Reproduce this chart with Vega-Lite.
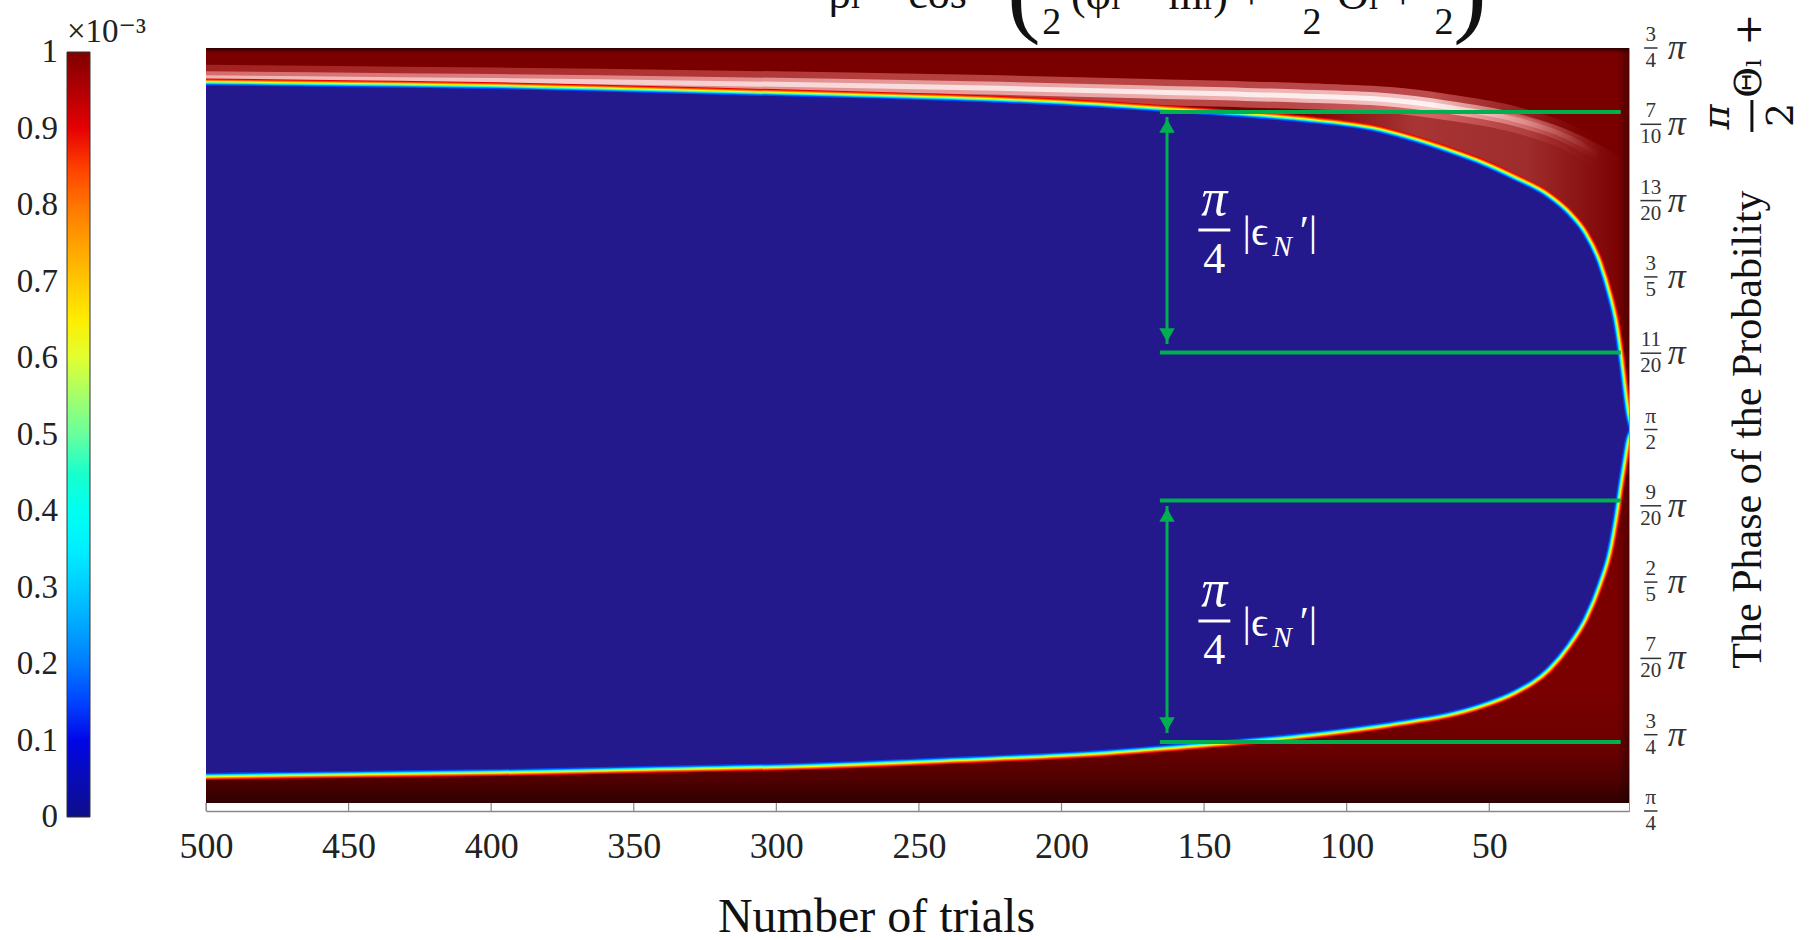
{
  "$schema": "https://vega.github.io/schema/vega-lite/v6.json",
  "width": 1423,
  "height": 763,
  "autosize": {"type": "none"},
  "padding": {"left": 206, "top": 48, "right": 185, "bottom": 129},
  "background": "white",
  "config": {"view": {"stroke": "#999", "strokeWidth": 1}, "font": "Liberation Serif"},
  "datasets": {
    "bnd": [
      {"n": 500, "up": 0.7255, "lo": 0.2749},
      {"n": 449.5, "up": 0.7243, "lo": 0.2762},
      {"n": 396.9, "up": 0.723, "lo": 0.2775},
      {"n": 344.3, "up": 0.7205, "lo": 0.2795},
      {"n": 291.7, "up": 0.718, "lo": 0.2815},
      {"n": 239.1, "up": 0.7153, "lo": 0.2854},
      {"n": 186.5, "up": 0.7108, "lo": 0.29},
      {"n": 151.5, "up": 0.7064, "lo": 0.2952},
      {"n": 116.4, "up": 0.7013, "lo": 0.3011},
      {"n": 88.37, "up": 0.6943, "lo": 0.3077},
      {"n": 76.79, "up": 0.6884, "lo": 0.311},
      {"n": 64.87, "up": 0.6812, "lo": 0.3149},
      {"n": 53.3, "up": 0.6733, "lo": 0.3208},
      {"n": 41.73, "up": 0.6635, "lo": 0.3293},
      {"n": 29.81, "up": 0.6517, "lo": 0.3444},
      {"n": 22.8, "up": 0.6406, "lo": 0.3601},
      {"n": 17.18, "up": 0.6275, "lo": 0.3771},
      {"n": 12.27, "up": 0.6085, "lo": 0.3994},
      {"n": 8.77, "up": 0.587, "lo": 0.421},
      {"n": 6.66, "up": 0.5698, "lo": 0.4427},
      {"n": 4.91, "up": 0.5475, "lo": 0.465},
      {"n": 3.51, "up": 0.5259, "lo": 0.4813},
      {"n": 2.45, "up": 0.5108, "lo": 0.4931},
      {"n": 1.05, "up": 0.5002, "lo": 0.4998}
    ],
    "glow": [
      {"n": 500, "g": 0.7305},
      {"n": 432, "g": 0.7292},
      {"n": 361.8, "g": 0.7279},
      {"n": 274.2, "g": 0.7255},
      {"n": 221.6, "g": 0.7236},
      {"n": 169, "g": 0.7212},
      {"n": 116.4, "g": 0.7185},
      {"n": 84.8, "g": 0.7159},
      {"n": 64.9, "g": 0.7113},
      {"n": 41.7, "g": 0.7035},
      {"n": 24.2, "g": 0.693},
      {"n": 11.2, "g": 0.6799}
    ],
    "haze": [
      {"n": 116.4, "t": 0.7185, "b": 0.7015},
      {"n": 84.8, "t": 0.7159, "b": 0.6936},
      {"n": 64.9, "t": 0.712, "b": 0.6812},
      {"n": 41.7, "t": 0.7061, "b": 0.6635},
      {"n": 24.2, "t": 0.6976, "b": 0.6432},
      {"n": 11.2, "t": 0.6864, "b": 0.6045},
      {"n": 2.5, "t": 0.6766, "b": 0.5108}
    ],
    "ticks": [
      {"p": 0.75, "num": "3", "den": "4", "tail": "π"},
      {"p": 0.7, "num": "7", "den": "10", "tail": "π"},
      {"p": 0.65, "num": "13", "den": "20", "tail": "π"},
      {"p": 0.6, "num": "3", "den": "5", "tail": "π"},
      {"p": 0.55, "num": "11", "den": "20", "tail": "π"},
      {"p": 0.5, "num": "π", "den": "2", "tail": ""},
      {"p": 0.45, "num": "9", "den": "20", "tail": "π"},
      {"p": 0.4, "num": "2", "den": "5", "tail": "π"},
      {"p": 0.35, "num": "7", "den": "20", "tail": "π"},
      {"p": 0.3, "num": "3", "den": "4", "tail": "π"},
      {"p": 0.25, "num": "π", "den": "4", "tail": ""}
    ]
  },
  "resolve": {"axis": {"x": "independent", "y": "independent"}},
  "layer": [
    {
      "data": {"values": [{}]},
      "mark": {"type": "rect", "color": "#7a0000"},
      "encoding": {
        "x": {"datum": 500, "type": "quantitative", "scale": {"domain": [500, 1], "nice": false, "zero": false},
          "axis": {"orient": "bottom", "zindex": 1, "values": [500, 450, 400, 350, 300, 250, 200, 150, 100, 50], "format": "d", "title": "Number of trials", "titleX": 670, "grid": false, "ticks": false, "labelFlush": false, "labelOverlap": false, "domainColor": "#888", "domainWidth": 1.5, "labelFont": "Liberation Serif", "labelFontSize": 36, "labelColor": "#222", "labelPadding": 18, "titleFont": "Liberation Serif", "titleFontSize": 48, "titleFontWeight": "normal", "titleColor": "#111", "titlePadding": 29}},
        "x2": {"datum": 1},
        "y": {"datum": 0.2553, "type": "quantitative", "scale": {"domain": [0.25, 0.75], "nice": false, "zero": false}, "axis": null},
        "y2": {"datum": 0.75}
      }
    },
    {
      "data": {"values": [{"t": 500}, {"t": 450}, {"t": 400}, {"t": 350}, {"t": 300}, {"t": 250}, {"t": 200}, {"t": 150}, {"t": 100}, {"t": 50}]},
      "mark": {"type": "rule", "color": "#888", "strokeWidth": 1.2},
      "encoding": {
        "x": {"field": "t", "type": "quantitative", "scale": {"domain": [500, 1], "nice": false, "zero": false}, "axis": null},
        "y": {"datum": 0.25, "type": "quantitative", "scale": {"domain": [0.25, 0.75], "nice": false, "zero": false}, "axis": null},
        "y2": {"datum": 0.2553}
      }
    },
    {
      "data": {"values": [{}]},
      "mark": {"type": "rect", "fill": {"gradient": "linear", "x1": 0, "y1": 0, "x2": 0, "y2": 1, "stops": [{"offset": 0, "color": "rgba(20,0,0,0)"}, {"offset": 0.5, "color": "rgba(20,0,0,0.15)"}, {"offset": 0.78, "color": "rgba(20,0,0,0.4)"}, {"offset": 1, "color": "rgba(20,0,0,0.72)"}]}},
      "encoding": {
        "x": {"datum": 500, "type": "quantitative", "scale": {"domain": [500, 1], "nice": false, "zero": false}, "axis": null},
        "x2": {"datum": 1},
        "y": {"datum": 0.2553, "type": "quantitative", "scale": {"domain": [0.25, 0.75], "nice": false, "zero": false}, "axis": null},
        "y2": {"datum": 0.3293}
      }
    },
    {
      "data": {"values": [{}]},
      "mark": {"type": "rect", "fill": {"gradient": "linear", "x1": 0, "y1": 0, "x2": 0, "y2": 1, "stops": [{"offset": 0, "color": "rgba(20,0,0,0.75)"}, {"offset": 1, "color": "rgba(20,0,0,0)"}]}},
      "encoding": {
        "x": {"datum": 500, "type": "quantitative", "scale": {"domain": [500, 1], "nice": false, "zero": false}, "axis": null},
        "x2": {"datum": 1},
        "y": {"datum": 0.7467, "type": "quantitative", "scale": {"domain": [0.25, 0.75], "nice": false, "zero": false}, "axis": null},
        "y2": {"datum": 0.75}
      }
    },
    {
      "data": {"values": [{}]},
      "mark": {"type": "rect", "fill": {"gradient": "linear", "x1": 0, "y1": 0, "x2": 1, "y2": 0, "stops": [{"offset": 0, "color": "rgba(20,0,0,0)"}, {"offset": 1, "color": "rgba(20,0,0,0.4)"}]}},
      "encoding": {
        "x": {"datum": 5, "type": "quantitative", "scale": {"domain": [500, 1], "nice": false, "zero": false}, "axis": null},
        "x2": {"datum": 1},
        "y": {"datum": 0.2553, "type": "quantitative", "scale": {"domain": [0.25, 0.75], "nice": false, "zero": false}, "axis": null},
        "y2": {"datum": 0.75}
      }
    },
    {
      "data": {"name": "haze"},
      "mark": {"type": "area", "interpolate": "monotone", "clip": true, "fill": {"gradient": "linear", "x1": 0, "y1": 0, "x2": 1, "y2": 0, "stops": [{"offset": 0, "color": "rgba(255,140,140,0)"}, {"offset": 0.35, "color": "rgba(255,150,150,0.35)"}, {"offset": 0.7, "color": "rgba(255,160,160,0.28)"}, {"offset": 1, "color": "rgba(255,150,150,0)"}]}},
      "encoding": {
        "x": {"field": "n", "type": "quantitative", "scale": {"domain": [500, 1], "nice": false, "zero": false}, "axis": null},
        "y": {"field": "t", "type": "quantitative", "scale": {"domain": [0.25, 0.75], "nice": false, "zero": false}, "axis": null},
        "y2": {"field": "b"}
      }
    },
    {
      "data": {"name": "glow"},
      "mark": {"type": "line", "strokeWidth": 26, "interpolate": "monotone", "clip": true, "strokeCap": "butt", "stroke": {"gradient": "linear", "x1": 0, "y1": 0, "x2": 1, "y2": 0, "stops": [{"offset": 0, "color": "rgba(255,110,110,0.3)"}, {"offset": 0.5, "color": "rgba(255,140,140,0.45)"}, {"offset": 0.88, "color": "rgba(255,150,150,0.5)"}, {"offset": 0.95, "color": "rgba(230,110,110,0.25)"}, {"offset": 1, "color": "rgba(160,30,30,0)"}]}},
      "encoding": {
        "x": {"field": "n", "type": "quantitative", "scale": {"domain": [500, 1], "nice": false, "zero": false}, "axis": null},
        "y": {"field": "g", "type": "quantitative", "scale": {"domain": [0.25, 0.75], "nice": false, "zero": false}, "axis": null}
      }
    },
    {
      "data": {"name": "glow"},
      "mark": {"type": "line", "strokeWidth": 13, "interpolate": "monotone", "clip": true, "strokeCap": "butt", "stroke": {"gradient": "linear", "x1": 0, "y1": 0, "x2": 1, "y2": 0, "stops": [{"offset": 0, "color": "rgba(255,170,170,0.55)"}, {"offset": 0.5, "color": "rgba(255,200,200,0.65)"}, {"offset": 0.88, "color": "rgba(255,220,220,0.8)"}, {"offset": 0.95, "color": "rgba(255,180,180,0.35)"}, {"offset": 1, "color": "rgba(200,80,80,0)"}]}},
      "encoding": {
        "x": {"field": "n", "type": "quantitative", "scale": {"domain": [500, 1], "nice": false, "zero": false}, "axis": null},
        "y": {"field": "g", "type": "quantitative", "scale": {"domain": [0.25, 0.75], "nice": false, "zero": false}, "axis": null}
      }
    },
    {
      "data": {"name": "glow"},
      "mark": {"type": "line", "strokeWidth": 5, "interpolate": "monotone", "clip": true, "strokeCap": "butt", "stroke": {"gradient": "linear", "x1": 0, "y1": 0, "x2": 1, "y2": 0, "stops": [{"offset": 0, "color": "rgba(255,225,225,0.6)"}, {"offset": 0.6, "color": "rgba(255,245,245,0.8)"}, {"offset": 0.88, "color": "rgba(255,250,250,0.85)"}, {"offset": 0.95, "color": "rgba(255,200,200,0.3)"}, {"offset": 1, "color": "rgba(255,200,200,0)"}]}},
      "encoding": {
        "x": {"field": "n", "type": "quantitative", "scale": {"domain": [500, 1], "nice": false, "zero": false}, "axis": null},
        "y": {"field": "g", "type": "quantitative", "scale": {"domain": [0.25, 0.75], "nice": false, "zero": false}, "axis": null}
      }
    },
    {
      "data": {"name": "bnd"},
      "transform": [{"fold": ["up", "lo"], "as": ["side", "yv"]}],
      "mark": {"type": "line", "stroke": "#e60000", "strokeWidth": 14, "strokeCap": "round", "strokeJoin": "round", "interpolate": "monotone", "clip": true},
      "encoding": {
        "x": {"field": "n", "type": "quantitative", "scale": {"domain": [500, 1], "nice": false, "zero": false}, "axis": null},
        "y": {"field": "yv", "type": "quantitative", "scale": {"domain": [0.25, 0.75], "nice": false, "zero": false}, "axis": null},
        "detail": {"field": "side"}
      }
    },
    {
      "data": {"name": "bnd"},
      "transform": [{"fold": ["up", "lo"], "as": ["side", "yv"]}],
      "mark": {"type": "line", "stroke": "#ff4d00", "strokeWidth": 12, "strokeCap": "round", "strokeJoin": "round", "interpolate": "monotone", "clip": true},
      "encoding": {
        "x": {"field": "n", "type": "quantitative", "scale": {"domain": [500, 1], "nice": false, "zero": false}, "axis": null},
        "y": {"field": "yv", "type": "quantitative", "scale": {"domain": [0.25, 0.75], "nice": false, "zero": false}, "axis": null},
        "detail": {"field": "side"}
      }
    },
    {
      "data": {"name": "bnd"},
      "transform": [{"fold": ["up", "lo"], "as": ["side", "yv"]}],
      "mark": {"type": "line", "stroke": "#ffb300", "strokeWidth": 10, "strokeCap": "round", "strokeJoin": "round", "interpolate": "monotone", "clip": true},
      "encoding": {
        "x": {"field": "n", "type": "quantitative", "scale": {"domain": [500, 1], "nice": false, "zero": false}, "axis": null},
        "y": {"field": "yv", "type": "quantitative", "scale": {"domain": [0.25, 0.75], "nice": false, "zero": false}, "axis": null},
        "detail": {"field": "side"}
      }
    },
    {
      "data": {"name": "bnd"},
      "transform": [{"fold": ["up", "lo"], "as": ["side", "yv"]}],
      "mark": {"type": "line", "stroke": "#faff05", "strokeWidth": 8.5, "strokeCap": "round", "strokeJoin": "round", "interpolate": "monotone", "clip": true},
      "encoding": {
        "x": {"field": "n", "type": "quantitative", "scale": {"domain": [500, 1], "nice": false, "zero": false}, "axis": null},
        "y": {"field": "yv", "type": "quantitative", "scale": {"domain": [0.25, 0.75], "nice": false, "zero": false}, "axis": null},
        "detail": {"field": "side"}
      }
    },
    {
      "data": {"name": "bnd"},
      "transform": [{"fold": ["up", "lo"], "as": ["side", "yv"]}],
      "mark": {"type": "line", "stroke": "#80ff80", "strokeWidth": 7, "strokeCap": "round", "strokeJoin": "round", "interpolate": "monotone", "clip": true},
      "encoding": {
        "x": {"field": "n", "type": "quantitative", "scale": {"domain": [500, 1], "nice": false, "zero": false}, "axis": null},
        "y": {"field": "yv", "type": "quantitative", "scale": {"domain": [0.25, 0.75], "nice": false, "zero": false}, "axis": null},
        "detail": {"field": "side"}
      }
    },
    {
      "data": {"name": "bnd"},
      "transform": [{"fold": ["up", "lo"], "as": ["side", "yv"]}],
      "mark": {"type": "line", "stroke": "#1affe6", "strokeWidth": 5.5, "strokeCap": "round", "strokeJoin": "round", "interpolate": "monotone", "clip": true},
      "encoding": {
        "x": {"field": "n", "type": "quantitative", "scale": {"domain": [500, 1], "nice": false, "zero": false}, "axis": null},
        "y": {"field": "yv", "type": "quantitative", "scale": {"domain": [0.25, 0.75], "nice": false, "zero": false}, "axis": null},
        "detail": {"field": "side"}
      }
    },
    {
      "data": {"name": "bnd"},
      "transform": [{"fold": ["up", "lo"], "as": ["side", "yv"]}],
      "mark": {"type": "line", "stroke": "#00b3ff", "strokeWidth": 4, "strokeCap": "round", "strokeJoin": "round", "interpolate": "monotone", "clip": true},
      "encoding": {
        "x": {"field": "n", "type": "quantitative", "scale": {"domain": [500, 1], "nice": false, "zero": false}, "axis": null},
        "y": {"field": "yv", "type": "quantitative", "scale": {"domain": [0.25, 0.75], "nice": false, "zero": false}, "axis": null},
        "detail": {"field": "side"}
      }
    },
    {
      "data": {"name": "bnd"},
      "transform": [{"fold": ["up", "lo"], "as": ["side", "yv"]}],
      "mark": {"type": "line", "stroke": "#004dff", "strokeWidth": 2.5, "strokeCap": "round", "strokeJoin": "round", "interpolate": "monotone", "clip": true},
      "encoding": {
        "x": {"field": "n", "type": "quantitative", "scale": {"domain": [500, 1], "nice": false, "zero": false}, "axis": null},
        "y": {"field": "yv", "type": "quantitative", "scale": {"domain": [0.25, 0.75], "nice": false, "zero": false}, "axis": null},
        "detail": {"field": "side"}
      }
    },
    {
      "data": {"name": "bnd"},
      "mark": {"type": "area", "color": "#23198d", "interpolate": "monotone", "clip": true},
      "encoding": {
        "x": {"field": "n", "type": "quantitative", "scale": {"domain": [500, 1], "nice": false, "zero": false}, "axis": null},
        "y": {"field": "up", "type": "quantitative", "scale": {"domain": [0.25, 0.75], "nice": false, "zero": false}, "axis": null},
        "y2": {"field": "lo"}
      }
    },
    {
      "data": {"values": [{"v": 0}, {"v": 1}]},
      "mark": {"type": "point", "opacity": 0},
      "encoding": {
        "x": {"datum": 250, "type": "quantitative", "scale": {"domain": [500, 1], "nice": false, "zero": false}, "axis": null},
        "y": {"datum": 0.5, "type": "quantitative", "scale": {"domain": [0.25, 0.75], "nice": false, "zero": false}, "axis": null},
        "color": {"field": "v", "type": "quantitative",
          "scale": {"type": "linear", "domain": [0, 0.125, 0.375, 0.625, 0.875, 1], "range": ["#0d0d8a", "#0000ff", "#00ffff", "#ffff00", "#ff0000", "#800000"]},
          "legend": {"title": "×10⁻³", "orient": "none", "legendX": -139, "legendY": -32, "direction": "vertical", "gradientLength": 765, "gradientThickness": 23, "values": [0, 0.1, 0.2, 0.3, 0.4, 0.5, 0.6, 0.7, 0.8, 0.9, 1], "labelExpr": "format(datum.value, '.1~f')", "labelFont": "Liberation Serif", "labelFontSize": 33, "labelColor": "#222", "labelOverlap": false, "titleFont": "Liberation Serif, DejaVu Serif", "titleFontSize": 33, "titleFontWeight": "normal", "titleColor": "#222", "titlePadding": 3, "gradientStrokeColor": "#333", "gradientStrokeWidth": 1,
            "encode": {"labels": {"update": {"x": {"value": -9}, "align": {"value": "right"}, "baseline": {"value": "middle"}}}}}
        }
      }
    },
    {
      "data": {"values": [{"g": 0.7081}, {"g": 0.5505}, {"g": 0.4534}, {"g": 0.2952}]},
      "mark": {"type": "rule", "color": "#00b050", "strokeWidth": 4},
      "encoding": {
        "x": {"datum": 165.5, "type": "quantitative", "scale": {"domain": [500, 1], "nice": false, "zero": false}, "axis": null},
        "x2": {"datum": 3.9},
        "y": {"field": "g", "type": "quantitative", "scale": {"domain": [0.25, 0.75], "nice": false, "zero": false}, "axis": null}
      }
    },
    {
      "data": {"values": [{"a": 0.7048, "b": 0.556}, {"a": 0.4499, "b": 0.3011}]},
      "mark": {"type": "rule", "color": "#00b050", "strokeWidth": 3},
      "encoding": {
        "x": {"datum": 163, "type": "quantitative", "scale": {"domain": [500, 1], "nice": false, "zero": false}, "axis": null},
        "y": {"field": "a", "type": "quantitative", "scale": {"domain": [0.25, 0.75], "nice": false, "zero": false}, "axis": null},
        "y2": {"field": "b"}
      }
    },
    {
      "data": {"values": [{"h": 0.6989, "s": "triangle-up"}, {"h": 0.5619, "s": "triangle-down"}, {"h": 0.444, "s": "triangle-up"}, {"h": 0.307, "s": "triangle-down"}]},
      "mark": {"type": "point", "filled": true, "color": "#00b050", "opacity": 1, "size": 240},
      "encoding": {
        "x": {"datum": 163, "type": "quantitative", "scale": {"domain": [500, 1], "nice": false, "zero": false}, "axis": null},
        "y": {"field": "h", "type": "quantitative", "scale": {"domain": [0.25, 0.75], "nice": false, "zero": false}, "axis": null},
        "shape": {"field": "s", "type": "nominal", "scale": null}
      }
    },
    {
      "data": {"values": [{"yy": 0.6511}, {"yy": 0.3949}]},
      "mark": {"type": "text", "text": "π", "font": "Liberation Serif", "fontStyle": "italic", "fontSize": 52, "color": "white", "align": "center", "baseline": "middle"},
      "encoding": {
        "x": {"datum": 146.4, "type": "quantitative", "scale": {"domain": [500, 1], "nice": false, "zero": false}, "axis": null},
        "y": {"field": "yy", "type": "quantitative", "scale": {"domain": [0.25, 0.75], "nice": false, "zero": false}, "axis": null}
      }
    },
    {
      "data": {"values": [{"yy": 0.6307}, {"yy": 0.3745}]},
      "mark": {"type": "rule", "color": "white", "strokeWidth": 3},
      "encoding": {
        "x": {"datum": 152, "type": "quantitative", "scale": {"domain": [500, 1], "nice": false, "zero": false}, "axis": null},
        "x2": {"datum": 140.8},
        "y": {"field": "yy", "type": "quantitative", "scale": {"domain": [0.25, 0.75], "nice": false, "zero": false}, "axis": null}
      }
    },
    {
      "data": {"values": [{"yy": 0.6111}, {"yy": 0.3549}]},
      "mark": {"type": "text", "text": "4", "font": "Liberation Serif", "fontSize": 44, "color": "white", "align": "center", "baseline": "middle"},
      "encoding": {
        "x": {"datum": 146.4, "type": "quantitative", "scale": {"domain": [500, 1], "nice": false, "zero": false}, "axis": null},
        "y": {"field": "yy", "type": "quantitative", "scale": {"domain": [0.25, 0.75], "nice": false, "zero": false}, "axis": null}
      }
    },
    {
      "data": {"values": [{"yy": 0.6209}, {"yy": 0.3647}]},
      "mark": {"type": "text", "text": "|ϵ", "font": "Liberation Serif, DejaVu Serif", "fontSize": 42, "color": "white", "align": "left", "baseline": "alphabetic"},
      "encoding": {
        "x": {"datum": 136.5, "type": "quantitative", "scale": {"domain": [500, 1], "nice": false, "zero": false}, "axis": null},
        "y": {"field": "yy", "type": "quantitative", "scale": {"domain": [0.25, 0.75], "nice": false, "zero": false}, "axis": null}
      }
    },
    {
      "data": {"values": [{"yy": 0.6137}, {"yy": 0.3575}]},
      "mark": {"type": "text", "text": "N", "font": "Liberation Serif", "fontStyle": "italic", "fontSize": 29, "color": "white", "align": "left", "baseline": "alphabetic"},
      "encoding": {
        "x": {"datum": 126, "type": "quantitative", "scale": {"domain": [500, 1], "nice": false, "zero": false}, "axis": null},
        "y": {"field": "yy", "type": "quantitative", "scale": {"domain": [0.25, 0.75], "nice": false, "zero": false}, "axis": null}
      }
    },
    {
      "data": {"values": [{"yy": 0.6209}, {"yy": 0.3647}]},
      "mark": {"type": "text", "text": "′|", "font": "Liberation Serif, DejaVu Serif", "fontSize": 42, "color": "white", "align": "left", "baseline": "alphabetic"},
      "encoding": {
        "x": {"datum": 116.5, "type": "quantitative", "scale": {"domain": [500, 1], "nice": false, "zero": false}, "axis": null},
        "y": {"field": "yy", "type": "quantitative", "scale": {"domain": [0.25, 0.75], "nice": false, "zero": false}, "axis": null}
      }
    },
    {
      "data": {"name": "ticks"},
      "mark": {"type": "text", "font": "Liberation Serif", "fontSize": 21, "color": "#333", "align": "center", "baseline": "middle", "dy": -13},
      "encoding": {
        "x": {"datum": -6.67, "type": "quantitative", "scale": {"domain": [500, 1], "nice": false, "zero": false}, "axis": null},
        "y": {"field": "p", "type": "quantitative", "scale": {"domain": [0.25, 0.75], "nice": false, "zero": false}, "axis": null},
        "text": {"field": "num"}
      }
    },
    {
      "data": {"name": "ticks"},
      "mark": {"type": "text", "font": "Liberation Serif", "fontSize": 21, "color": "#333", "align": "center", "baseline": "middle", "dy": 13},
      "encoding": {
        "x": {"datum": -6.67, "type": "quantitative", "scale": {"domain": [500, 1], "nice": false, "zero": false}, "axis": null},
        "y": {"field": "p", "type": "quantitative", "scale": {"domain": [0.25, 0.75], "nice": false, "zero": false}, "axis": null},
        "text": {"field": "den"}
      }
    },
    {
      "data": {"name": "ticks"},
      "transform": [{"filter": "length(datum.den) < 2 && length(datum.num) < 2"}],
      "mark": {"type": "rule", "color": "#333", "strokeWidth": 1.5},
      "encoding": {
        "x": {"datum": -4.3, "type": "quantitative", "scale": {"domain": [500, 1], "nice": false, "zero": false}, "axis": null},
        "x2": {"datum": -9},
        "y": {"field": "p", "type": "quantitative", "scale": {"domain": [0.25, 0.75], "nice": false, "zero": false}, "axis": null}
      }
    },
    {
      "data": {"name": "ticks"},
      "transform": [{"filter": "length(datum.den) > 1 || length(datum.num) > 1"}],
      "mark": {"type": "rule", "color": "#333", "strokeWidth": 1.5},
      "encoding": {
        "x": {"datum": -3, "type": "quantitative", "scale": {"domain": [500, 1], "nice": false, "zero": false}, "axis": null},
        "x2": {"datum": -10.3},
        "y": {"field": "p", "type": "quantitative", "scale": {"domain": [0.25, 0.75], "nice": false, "zero": false}, "axis": null}
      }
    },
    {
      "data": {"name": "ticks"},
      "mark": {"type": "text", "font": "Liberation Serif", "fontStyle": "italic", "fontSize": 36, "color": "#333", "align": "left", "baseline": "middle"},
      "encoding": {
        "x": {"datum": -12.6, "type": "quantitative", "scale": {"domain": [500, 1], "nice": false, "zero": false}, "axis": null},
        "y": {"field": "p", "type": "quantitative", "scale": {"domain": [0.25, 0.75], "nice": false, "zero": false}, "axis": null},
        "text": {"field": "tail"}
      }
    },
    {
      "data": {"values": [{}]},
      "mark": {"type": "text", "text": "The Phase of the Probability", "font": "Liberation Serif", "fontSize": 42, "color": "#111", "angle": 270, "align": "center", "baseline": "middle"},
      "encoding": {
        "x": {"datum": -40.67, "type": "quantitative", "scale": {"domain": [500, 1], "nice": false, "zero": false}, "axis": null},
        "y": {"datum": 0.5, "type": "quantitative", "scale": {"domain": [0.25, 0.75], "nice": false, "zero": false}, "axis": null}
      }
    },
    {
      "data": {"values": [{}]},
      "mark": {"type": "text", "text": "Θₗ +", "font": "DejaVu Serif", "fontSize": 38, "color": "#111", "angle": 270, "align": "left", "baseline": "middle"},
      "encoding": {
        "x": {"datum": -41.4, "type": "quantitative", "scale": {"domain": [500, 1], "nice": false, "zero": false}, "axis": null},
        "y": {"datum": 0.7172, "type": "quantitative", "scale": {"domain": [0.25, 0.75], "nice": false, "zero": false}, "axis": null}
      }
    },
    {
      "data": {"values": [{}]},
      "mark": {"type": "text", "text": "π", "font": "DejaVu Serif", "fontStyle": "italic", "fontSize": 38, "color": "#111", "angle": 270, "align": "center", "baseline": "middle"},
      "encoding": {
        "x": {"datum": -30.2, "type": "quantitative", "scale": {"domain": [500, 1], "nice": false, "zero": false}, "axis": null},
        "y": {"datum": 0.7048, "type": "quantitative", "scale": {"domain": [0.25, 0.75], "nice": false, "zero": false}, "axis": null}
      }
    },
    {
      "data": {"values": [{}]},
      "mark": {"type": "text", "text": "2", "font": "DejaVu Serif", "fontSize": 38, "color": "#111", "angle": 270, "align": "center", "baseline": "middle"},
      "encoding": {
        "x": {"datum": -52.6, "type": "quantitative", "scale": {"domain": [500, 1], "nice": false, "zero": false}, "axis": null},
        "y": {"datum": 0.7061, "type": "quantitative", "scale": {"domain": [0.25, 0.75], "nice": false, "zero": false}, "axis": null}
      }
    },
    {
      "data": {"values": [{}]},
      "mark": {"type": "rule", "color": "#111", "strokeWidth": 3},
      "encoding": {
        "x": {"datum": -42.1, "type": "quantitative", "scale": {"domain": [500, 1], "nice": false, "zero": false}, "axis": null},
        "y": {"datum": 0.7159, "type": "quantitative", "scale": {"domain": [0.25, 0.75], "nice": false, "zero": false}, "axis": null},
        "y2": {"datum": 0.695}
      }
    },
    {
      "data": {"values": [{}]},
      "mark": {"type": "text", "text": "ρₗ = cos²", "font": "Liberation Serif, DejaVu Serif", "fontSize": 44, "color": "#111", "align": "left", "baseline": "alphabetic"},
      "encoding": {
        "x": {"datum": 281.6, "type": "quantitative", "scale": {"domain": [500, 1], "nice": false, "zero": false}, "axis": null},
        "y": {"datum": 0.7762, "type": "quantitative", "scale": {"domain": [0.25, 0.75], "nice": false, "zero": false}, "axis": null}
      }
    },
    {
      "data": {"values": [{"xx": 213.2, "t": "("}, {"xx": 56.8, "t": ")"}]},
      "mark": {"type": "text", "font": "Liberation Serif", "fontSize": 100, "color": "#111", "align": "center", "baseline": "alphabetic"},
      "encoding": {
        "x": {"field": "xx", "type": "quantitative", "scale": {"domain": [500, 1], "nice": false, "zero": false}, "axis": null},
        "y": {"datum": 0.7657, "type": "quantitative", "scale": {"domain": [0.25, 0.75], "nice": false, "zero": false}, "axis": null},
        "text": {"field": "t"}
      }
    },
    {
      "data": {"values": [{"xx": 203.4}, {"xx": 112.2}, {"xx": 65.9}]},
      "mark": {"type": "text", "text": "2", "font": "Liberation Serif, DejaVu Serif", "fontSize": 38, "color": "#111", "align": "center", "baseline": "middle"},
      "encoding": {
        "x": {"field": "xx", "type": "quantitative", "scale": {"domain": [500, 1], "nice": false, "zero": false}, "axis": null},
        "y": {"datum": 0.7664, "type": "quantitative", "scale": {"domain": [0.25, 0.75], "nice": false, "zero": false}, "axis": null}
      }
    },
    {
      "data": {"values": [{"xx": 196.7, "t": "(φₗ − mₗ) +"}, {"xx": 103.4, "t": "Θₗ +"}]},
      "mark": {"type": "text", "font": "Liberation Serif, DejaVu Serif", "fontSize": 44, "color": "#111", "align": "left", "baseline": "alphabetic"},
      "encoding": {
        "x": {"field": "xx", "type": "quantitative", "scale": {"domain": [500, 1], "nice": false, "zero": false}, "axis": null},
        "y": {"datum": 0.7756, "type": "quantitative", "scale": {"domain": [0.25, 0.75], "nice": false, "zero": false}, "axis": null},
        "text": {"field": "t"}
      }
    }
  ]
}
